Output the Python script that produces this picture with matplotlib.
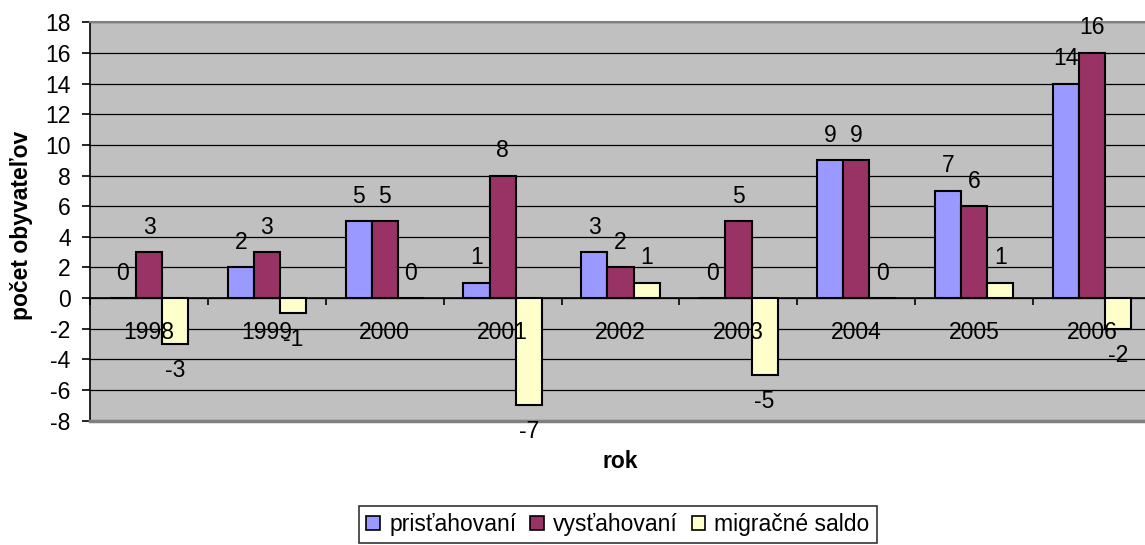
import matplotlib
matplotlib.use("Agg")
import matplotlib.pyplot as plt
from matplotlib.patches import Patch
import numpy as np

plt.rcParams['font.family'] = ['Liberation Sans', 'DejaVu Sans']

years = ['1998', '1999', '2000', '2001', '2002', '2003', '2004', '2005', '2006']
pristahovani = [0, 2, 5, 1, 3, 0, 9, 7, 14]
vystahovani = [3, 3, 5, 8, 2, 5, 9, 6, 16]
saldo = [-3, -1, 0, -7, 1, -5, 0, 1, -2]
series_names = ['prisťahovaní', 'vysťahovaní', 'migračné saldo']
colors = ['#9999FF', '#993366', '#FFFFCC']
yticks = list(range(-8, 19, 2))

W, H = 1145, 545
fig = plt.figure(figsize=(W / 100, H / 100), dpi=100)
left, right, top, bottom = 90.1, 1151, 22.3, 420.7
ax = fig.add_axes([left / W, 1 - bottom / H, (right - left) / W, (bottom - top) / H])
ax.set_facecolor('#C0C0C0')

FS = 16.5
x = np.arange(len(years))
w = 1 / 4.5
for k, (vals, c) in enumerate(zip([pristahovani, vystahovani, saldo], colors)):
    xs = x + (k - 1) * w
    ax.bar(xs, vals, width=w, color=c, edgecolor='black', linewidth=1.5, zorder=3)
    for xi, v in zip(xs, vals):
        off = 18 if v >= 0 else -19
        ax.annotate(str(v), (xi, v), xytext=(0, off), textcoords='offset points',
                    ha='center', va='center', fontsize=FS, zorder=6)

# category labels drawn on top of bars, as in the reference
for xi, yr in zip(x, years):
    ax.annotate(yr, (xi, 0), xytext=(0, -25), textcoords='offset points',
                ha='center', va='center', fontsize=FS, zorder=6)

ax.set_xlim(-0.5, len(years) - 0.5)
ax.set_ylim(-8, 18)
ax.set_yticks(yticks)
ax.set_yticklabels([str(t) for t in yticks], fontsize=FS)
ax.yaxis.grid(True, color='black', linewidth=0.9, zorder=1)
ax.set_axisbelow(True)

ax.spines['bottom'].set_position(('data', 0))
ax.spines['bottom'].set_zorder(4)
ax.spines['bottom'].set_linewidth(1.2)
ax.spines['left'].set_linewidth(1.2)
ax.spines['top'].set_color('#808080')
ax.spines['top'].set_linewidth(1.5)
ax.spines['right'].set_visible(False)
ax.axhline(-8, color='#808080', linewidth=2.5, clip_on=False, zorder=4)

ax.set_xticks(np.arange(-0.5, len(years), 1.0))
ax.set_xticklabels([])
ax.tick_params(axis='x', length=5, width=1.2, direction='out')
ax.tick_params(axis='y', length=6, width=1.2, direction='out', pad=8)

fig.text(22 / W, 1 - 225 / H, 'počet obyvateľov', rotation=90, fontsize=FS,
         fontweight='bold', ha='center', va='center')
fig.text(620 / W, 1 - 462 / H, 'rok', fontsize=FS, fontweight='bold',
         ha='center', va='center')

handles = [Patch(facecolor=c, edgecolor='black', linewidth=1.2) for c in colors]
leg = fig.legend(handles, series_names, loc='upper center',
                 bbox_to_anchor=(618 / W, 1 - 506 / H), ncol=3, fontsize=FS,
                 frameon=True, fancybox=False, edgecolor='black',
                 handlelength=0.6, handleheight=0.6, handletextpad=0.4,
                 columnspacing=0.6, borderpad=0.3, borderaxespad=0)
leg.get_frame().set_linewidth(1.2)

fig.savefig('out.png', dpi=100)
